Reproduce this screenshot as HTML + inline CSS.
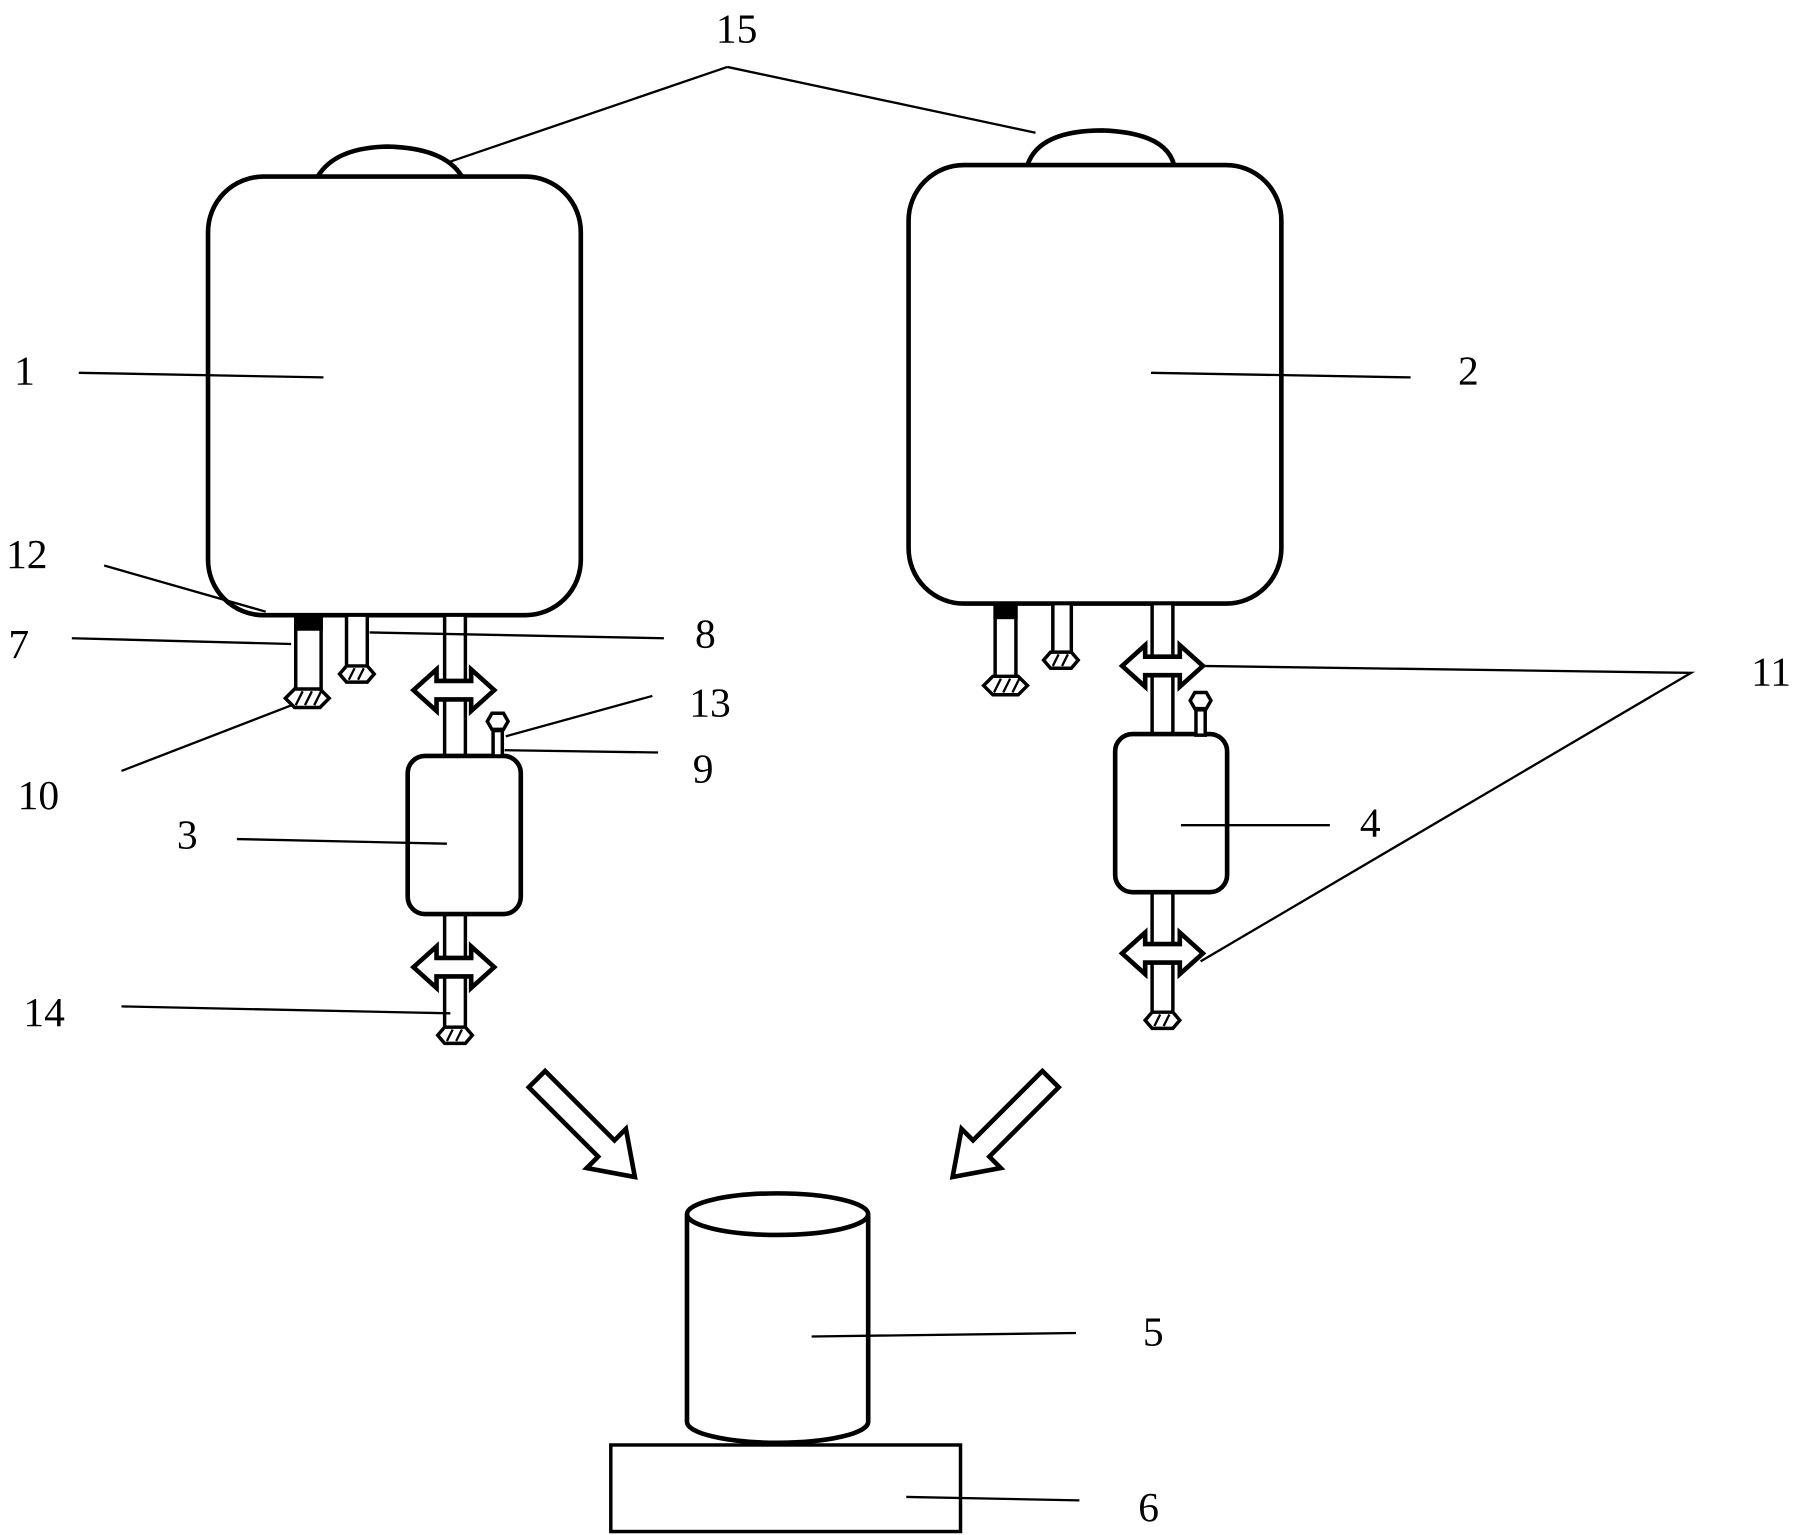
<!DOCTYPE html>
<html><head><meta charset="utf-8"><style>
html,body{margin:0;padding:0;background:#fff;}
svg{display:block}
text{font-family:"Liberation Serif",serif;font-size:36px;fill:#000}
</style></head><body>
<svg width="1801" height="1535" viewBox="0 0 1560 1330" xmlns="http://www.w3.org/2000/svg">
<defs>
<g id="nut"><polygon points="-19,0 -11,-8 11,-8 19,0 11,8 -11,8" fill="#fff" stroke="#000" stroke-width="3"/>
<path d="M-10,6 L-4,-6 M-2,6 L4,-6 M6,6 L12,-6" stroke="#000" stroke-width="2"/></g>
<g id="snut"><polygon points="-15,0 -9,-7 9,-7 15,0 9,7 -9,7" fill="#fff" stroke="#000" stroke-width="3"/>
<path d="M-7,5 L-2,-5 M1,5 L6,-5" stroke="#000" stroke-width="2"/></g>
<g id="darr"><path d="M-35,0 L-15,-18 L-15,-8 L15,-8 L15,-18 L35,0 L15,18 L15,8 L-15,8 L-15,18 Z" fill="#fff" stroke="#000" stroke-width="4"/></g>
<g id="valve"><polygon points="-9,0 -5,-7 5,-7 9,0 5,7 -5,7" fill="#fff" stroke="#000" stroke-width="3"/>
<rect x="-4" y="8" width="8" height="22" fill="#fff" stroke="#000" stroke-width="3"/></g>
<g id="bigarr"><path d="M0,-10 L85,-10 L85,-24 L120,0 L85,24 L85,10 L0,10 Z" fill="#fff" stroke="#000" stroke-width="4"/></g>
</defs>
<g fill="none" stroke="#000" stroke-width="3">
<!-- tank 1 -->
<path d="M275,153 Q290,128 335,127 Q385,128 400,153" stroke-width="4"/>
<rect x="180" y="153" width="323" height="380" rx="48" stroke-width="4"/>
<!-- tank 2 -->
<path d="M890,143 Q900,113 955,113 Q1010,115 1017,143" stroke-width="4"/>
<rect x="787" y="143" width="323" height="380" rx="48" stroke-width="4"/>
<!-- tank1 pipes -->
<rect x="256" y="533" width="22" height="68" fill="#fff"/>
<rect x="256" y="533" width="22" height="12" fill="#000"/>
<rect x="300" y="533" width="18" height="45" fill="#fff"/>
<rect x="385" y="533" width="18" height="122" fill="#fff"/>
<rect x="385" y="792" width="18" height="98" fill="#fff"/>
<rect x="353" y="655" width="98" height="137" rx="15" stroke-width="4"/>
<!-- tank2 pipes -->
<rect x="862" y="523" width="18" height="68" fill="#fff"/>
<rect x="862" y="523" width="18" height="12" fill="#000"/>
<rect x="912" y="523" width="16" height="45" fill="#fff"/>
<rect x="998" y="523" width="18" height="113" fill="#fff"/>
<rect x="998" y="773" width="18" height="105" fill="#fff"/>
<rect x="966" y="636" width="97" height="137" rx="15" stroke-width="4"/>
<!-- cylinder -->
<path d="M595,1052 L595,1232 A78,18 0 0 0 752,1232 L752,1052" stroke-width="4" fill="#fff"/>
<ellipse cx="673.5" cy="1052" rx="78.5" ry="18" stroke-width="4" fill="#fff"/>
<rect x="529" y="1252" width="303" height="75" stroke-width="3"/>
<!-- leader lines -->
<path d="M630,58 L390,140 M630,58 L897,115 M68,323 L280,327 M997,323 L1222,327 M90,490 L230,530 M62,553 L252,558 M320,548 L575,553 M438,638 L565,603 M437,650 L570,652 M105,668 L255,610 M205,727 L387,731 M1023,715 L1152,715 M105,872 L390,878 M1040,577 L1465,583 L1040,833 M703,1158 L932,1155 M785,1297 L935,1300" stroke-width="2"/>
</g>
<use href="#nut" x="266" y="605"/>
<use href="#snut" x="309" y="584"/>
<use href="#darr" x="393" y="598"/>
<use href="#darr" x="393" y="838"/>
<use href="#snut" x="394" y="897"/>
<use href="#valve" x="431" y="625"/>
<use href="#nut" x="871" y="594"/>
<use href="#snut" x="919" y="572"/>
<use href="#darr" x="1007" y="577"/>
<use href="#darr" x="1007" y="826"/>
<use href="#snut" x="1007" y="884"/>
<use href="#valve" x="1040" y="607"/>
<use href="#bigarr" transform="translate(465,935) rotate(45)"/>
<use href="#bigarr" transform="translate(910,935) rotate(135)"/>
<text x="620" y="37">15</text>
<text x="12" y="333">1</text>
<text x="1263" y="333">2</text>
<text x="5" y="492">12</text>
<text x="7" y="570">7</text>
<text x="602" y="561">8</text>
<text x="597" y="621">13</text>
<text x="600" y="678">9</text>
<text x="15" y="701">10</text>
<text x="153" y="735">3</text>
<text x="1178" y="725">4</text>
<text x="20" y="889">14</text>
<text x="1517" y="594">11</text>
<text x="990" y="1166">5</text>
<text x="986" y="1318">6</text>
</svg>
</body></html>
